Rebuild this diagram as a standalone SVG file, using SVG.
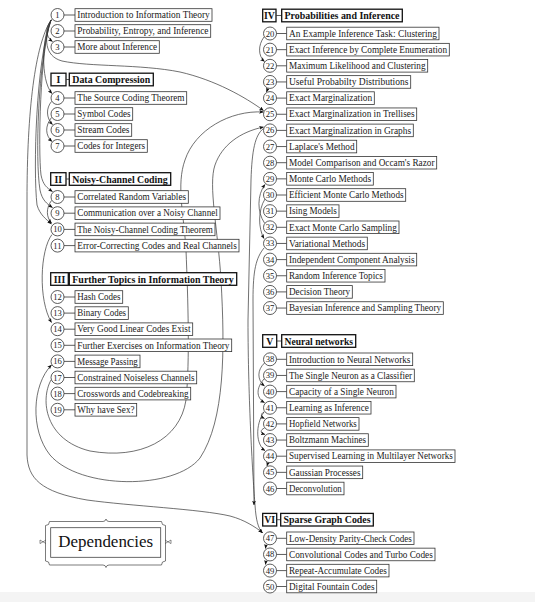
<svg xmlns="http://www.w3.org/2000/svg" width="535" height="602" viewBox="0 0 535 602">
<defs>
<style>
.c{fill:#fff;stroke:#333;stroke-width:.8}
.b{fill:#fff;stroke:#333;stroke-width:.8}
.h{fill:#fff;stroke:#111;stroke-width:1.3}
.k{stroke:#333;stroke-width:.8}
.t{font-family:"Liberation Serif",serif;font-size:9.4px;fill:#1a1a1a}
.n{font-family:"Liberation Serif",serif;font-size:8.6px;fill:#1a1a1a;text-anchor:middle}
.r{font-family:"Liberation Serif",serif;font-size:9.8px;font-weight:bold;fill:#111}
.rc{font-family:"Liberation Serif",serif;font-size:9.8px;font-weight:bold;fill:#111;text-anchor:middle}
.e{fill:none;stroke:#333;stroke-width:.7;marker-end:url(#ah)}
.e2{fill:none;stroke:#333;stroke-width:.7;marker-end:url(#ah);marker-start:url(#as)}
</style>
<marker id="ah" viewBox="0 0 6 5" refX="5.6" refY="2.5" markerWidth="4.6" markerHeight="3.8" markerUnits="userSpaceOnUse" orient="auto"><path d="M0,0 L6,2.5 L0,5 L1.4,2.5 z" fill="#111"/></marker>
<marker id="as" viewBox="0 0 6 5" refX="5.6" refY="2.5" markerWidth="4.6" markerHeight="3.8" markerUnits="userSpaceOnUse" orient="auto-start-reverse"><path d="M0,0 L6,2.5 L0,5 L1.4,2.5 z" fill="#111"/></marker>
</defs>
<rect x="0" y="0" width="535" height="602" fill="#fff"/>
<rect x="0" y="592" width="535" height="10" fill="#f4f4f4"/>

<g id="connectors">
<path class="e" d="M52,19.5 C45,27 45,36 52.5,41.5"/>
<path class="e" d="M51.5,19.5 C42,35 40,80 52,93.5"/>
<path class="e" d="M51,20 C44,38 44,56 62,61 C90,67 140,64 180,72 C215,80 245,97 263.5,110.5"/>
<path class="e" d="M51.5,101.5 C46,108 46,118 52.5,124.5"/>
<path class="e" d="M51.5,117.5 C45,126 45,135 52,141.5"/>
<path class="e" d="M51,20 C40,50 38,150 41,175 C43,185 47,188 52.5,191.5"/>
<path class="e" d="M51,20 C38,60 35,160 40,190 C42,200 47,204 52.5,207.5"/>
<path class="e" d="M51,20 C36,60 33,170 37,205 C40,215 46,219 51.5,224"/>
<path class="e" d="M51.5,200.5 C46,208 46,217 51.5,223"/>
<path class="e" d="M52,234.5 C40,250 38,300 51.5,322.5"/>
<path class="e" d="M51,20 C35,45 27,110 27,200 L27,455 C28,478 40,492 87,500 C130,506 200,509 230,516 C245,520 255,527 262.5,532.5"/>
<path class="e2" d="M263.5,127 C240,132 222,145 215,165 C208,185 218,230 221,280 C225,350 225,420 200,458 C175,490 80,490 50,455 C30,430 32,385 51.5,365"/>
<path class="e" d="M51,380 C40,400 45,440 90,451 C140,460 180,440 186,400 C190,360 188,300 186,250 C184,215 176,185 185,160 C195,130 230,110 263.5,112"/>
<path class="e" d="M263.5,128.5 C255,135 252,150 251,180 L248,320 C248,400 253,480 255,505 C256,520 258,528 262.5,533"/>
<path class="e" d="M264,248 C256,258 253,270 253,300 L254,505"/>
<path class="e" d="M264,37 C258,45 258,56 264.5,61.5"/>
<path class="e" d="M268,88 L266.5,92"/>
<path class="e" d="M264.5,223 C257,212 257,195 265,184.5"/>
<path class="e" d="M265,199 C258,210 258,228 264,238.5"/>
<path class="e" d="M264.5,363 C257,370 257,380 264.5,386"/>
<path class="e" d="M264,379 C256,388 256,398 264.5,402.5"/>
<path class="e" d="M264,412 C260,414 261,417 264.5,418.5"/>
<path class="e" d="M264,412 C255,425 256,445 265,450.5"/>
<path class="e" d="M264.5,428 C260,430 260,433 265,434.5"/>
<path class="e" d="M268,462.5 L267,466"/>
<path class="e" d="M266,544.5 L265.5,548.5"/>
<path class="e" d="M266,560.5 L265.5,564.5"/>
</g>

<g id="n1"><circle class="c" cx="57.5" cy="15" r="6.5"/><line class="k" x1="64" y1="15" x2="75" y2="15"/><rect class="b" x="75" y="8.7" width="137" height="12.6"/><text class="n" x="57.5" y="18">1</text><text class="t" x="77.3" y="18.2" textLength="132.5" lengthAdjust="spacingAndGlyphs">Introduction to Information Theory</text></g>
<g id="n2"><circle class="c" cx="57.5" cy="31" r="6.5"/><line class="k" x1="64" y1="31" x2="75" y2="31"/><rect class="b" x="75" y="24.7" width="135.7" height="12.6"/><text class="n" x="57.5" y="34">2</text><text class="t" x="77.3" y="34.2" textLength="131.2" lengthAdjust="spacingAndGlyphs">Probability, Entropy, and Inference</text></g>
<g id="n3"><circle class="c" cx="57.5" cy="47" r="6.5"/><line class="k" x1="64" y1="47" x2="75" y2="47"/><rect class="b" x="75" y="40.7" width="84.3" height="12.6"/><text class="n" x="57.5" y="50">3</text><text class="t" x="77.3" y="50.2" textLength="79.8" lengthAdjust="spacingAndGlyphs">More about Inference</text></g>

<g id="partI"><rect class="h" x="51" y="73.2" width="15" height="12.6"/><line class="k" x1="66" y1="79.5" x2="69.3" y2="79.5"/><rect class="h" x="69.3" y="73.2" width="84" height="12.6"/><text class="rc" x="58.5" y="83">I</text><text class="r" x="72.3" y="83" textLength="78" lengthAdjust="spacingAndGlyphs">Data Compression</text></g>
<g id="n4"><circle class="c" cx="57.5" cy="98" r="6.5"/><line class="k" x1="64" y1="98" x2="75" y2="98"/><rect class="b" x="75" y="91.7" width="111.7" height="12.6"/><text class="n" x="57.5" y="101">4</text><text class="t" x="77.3" y="101.2" textLength="107.2" lengthAdjust="spacingAndGlyphs">The Source Coding Theorem</text></g>
<g id="n5"><circle class="c" cx="57.5" cy="114" r="6.5"/><line class="k" x1="64" y1="114" x2="75" y2="114"/><rect class="b" x="75" y="107.7" width="57.7" height="12.6"/><text class="n" x="57.5" y="117">5</text><text class="t" x="77.3" y="117.2" textLength="53.2" lengthAdjust="spacingAndGlyphs">Symbol Codes</text></g>
<g id="n6"><circle class="c" cx="57.5" cy="130" r="6.5"/><line class="k" x1="64" y1="130" x2="75" y2="130"/><rect class="b" x="75" y="123.7" width="56.7" height="12.6"/><text class="n" x="57.5" y="133">6</text><text class="t" x="77.3" y="133.2" textLength="52.2" lengthAdjust="spacingAndGlyphs">Stream Codes</text></g>
<g id="n7"><circle class="c" cx="57.5" cy="146" r="6.5"/><line class="k" x1="64" y1="146" x2="75" y2="146"/><rect class="b" x="75" y="139.7" width="72.3" height="12.6"/><text class="n" x="57.5" y="149">7</text><text class="t" x="77.3" y="149.2" textLength="67.8" lengthAdjust="spacingAndGlyphs">Codes for Integers</text></g>

<g id="partII"><rect class="h" x="50.7" y="172.7" width="15.3" height="12.6"/><line class="k" x1="66" y1="179" x2="69.3" y2="179"/><rect class="h" x="69.3" y="172.7" width="101.4" height="12.6"/><text class="rc" x="58.3" y="182.5">II</text><text class="r" x="72.3" y="182.5" textLength="95.4" lengthAdjust="spacingAndGlyphs">Noisy-Channel Coding</text></g>
<g id="n8"><circle class="c" cx="57.5" cy="197" r="6.5"/><line class="k" x1="64" y1="197" x2="75" y2="197"/><rect class="b" x="75" y="190.7" width="113.3" height="12.6"/><text class="n" x="57.5" y="200">8</text><text class="t" x="77.3" y="200.2" textLength="108.8" lengthAdjust="spacingAndGlyphs">Correlated Random Variables</text></g>
<g id="n9"><circle class="c" cx="57.5" cy="213.2" r="6.5"/><line class="k" x1="64" y1="213.2" x2="75" y2="213.2"/><rect class="b" x="75" y="206.9" width="145" height="12.6"/><text class="n" x="57.5" y="216.2">9</text><text class="t" x="77.3" y="216.4" textLength="140.5" lengthAdjust="spacingAndGlyphs">Communication over a Noisy Channel</text></g>
<g id="n10"><circle class="c" cx="57.5" cy="229.4" r="6.5"/><line class="k" x1="64" y1="229.4" x2="75" y2="229.4"/><rect class="b" x="75" y="223.1" width="140" height="12.6"/><text class="n" x="57.5" y="232.4">10</text><text class="t" x="77.3" y="232.6" textLength="135.5" lengthAdjust="spacingAndGlyphs">The Noisy-Channel Coding Theorem</text></g>
<g id="n11"><circle class="c" cx="57.5" cy="245.6" r="6.5"/><line class="k" x1="64" y1="245.6" x2="75" y2="245.6"/><rect class="b" x="75" y="239.3" width="164" height="12.6"/><text class="n" x="57.5" y="248.6">11</text><text class="t" x="77.3" y="248.8" textLength="159.5" lengthAdjust="spacingAndGlyphs">Error-Correcting Codes and Real Channels</text></g>

<g id="partIII"><rect class="h" x="50.7" y="272.7" width="17.6" height="12.6"/><line class="k" x1="68.3" y1="279" x2="69.3" y2="279"/><rect class="h" x="69.3" y="272.7" width="167.4" height="12.6"/><text class="rc" x="59.5" y="282.5">III</text><text class="r" x="72.3" y="282.5" textLength="161.4" lengthAdjust="spacingAndGlyphs">Further Topics in Information Theory</text></g>
<g id="n12"><circle class="c" cx="57.5" cy="297" r="6.5"/><line class="k" x1="64" y1="297" x2="75" y2="297"/><rect class="b" x="75" y="290.7" width="47.7" height="12.6"/><text class="n" x="57.5" y="300">12</text><text class="t" x="77.3" y="300.2" textLength="43.2" lengthAdjust="spacingAndGlyphs">Hash Codes</text></g>
<g id="n13"><circle class="c" cx="57.5" cy="313.1" r="6.5"/><line class="k" x1="64" y1="313.1" x2="75" y2="313.1"/><rect class="b" x="75" y="306.8" width="53.3" height="12.6"/><text class="n" x="57.5" y="316.1">13</text><text class="t" x="77.3" y="316.3" textLength="48.8" lengthAdjust="spacingAndGlyphs">Binary Codes</text></g>
<g id="n14"><circle class="c" cx="57.5" cy="329.2" r="6.5"/><line class="k" x1="64" y1="329.2" x2="75" y2="329.2"/><rect class="b" x="75" y="322.9" width="117.7" height="12.6"/><text class="n" x="57.5" y="332.2">14</text><text class="t" x="77.3" y="332.4" textLength="113.2" lengthAdjust="spacingAndGlyphs">Very Good Linear Codes Exist</text></g>
<g id="n15"><circle class="c" cx="57.5" cy="345.3" r="6.5"/><line class="k" x1="64" y1="345.3" x2="75" y2="345.3"/><rect class="b" x="75" y="339" width="156.7" height="12.6"/><text class="n" x="57.5" y="348.3">15</text><text class="t" x="77.3" y="348.5" textLength="152.2" lengthAdjust="spacingAndGlyphs">Further Exercises on Information Theory</text></g>
<g id="n16"><circle class="c" cx="57.5" cy="361.4" r="6.5"/><line class="k" x1="64" y1="361.4" x2="75" y2="361.4"/><rect class="b" x="75" y="355.1" width="65" height="12.6"/><text class="n" x="57.5" y="364.4">16</text><text class="t" x="77.3" y="364.6" textLength="60.5" lengthAdjust="spacingAndGlyphs">Message Passing</text></g>
<g id="n17"><circle class="c" cx="57.5" cy="377.5" r="6.5"/><line class="k" x1="64" y1="377.5" x2="75" y2="377.5"/><rect class="b" x="75" y="371.2" width="121.7" height="12.6"/><text class="n" x="57.5" y="380.5">17</text><text class="t" x="77.3" y="380.7" textLength="117.2" lengthAdjust="spacingAndGlyphs">Constrained Noiseless Channels</text></g>
<g id="n18"><circle class="c" cx="57.5" cy="393.6" r="6.5"/><line class="k" x1="64" y1="393.6" x2="75" y2="393.6"/><rect class="b" x="75" y="387.3" width="115.7" height="12.6"/><text class="n" x="57.5" y="396.6">18</text><text class="t" x="77.3" y="396.8" textLength="111.2" lengthAdjust="spacingAndGlyphs">Crosswords and Codebreaking</text></g>
<g id="n19"><circle class="c" cx="57.5" cy="409.8" r="6.5"/><line class="k" x1="64" y1="409.8" x2="75" y2="409.8"/><rect class="b" x="75" y="403.5" width="61.7" height="12.6"/><text class="n" x="57.5" y="412.8">19</text><text class="t" x="77.3" y="413" textLength="57.2" lengthAdjust="spacingAndGlyphs">Why have Sex?</text></g>

<g id="partIV"><rect class="h" x="262.7" y="9.2" width="13.3" height="12.6"/><line class="k" x1="276" y1="15.5" x2="281.7" y2="15.5"/><rect class="h" x="281.7" y="9.2" width="120.6" height="12.6"/><text class="rc" x="269.35" y="19">IV</text><text class="r" x="284.5" y="19" textLength="115" lengthAdjust="spacingAndGlyphs">Probabilities and Inference</text></g>
<g id="n20"><circle class="c" cx="270" cy="33.5" r="6.5"/><line class="k" x1="276.5" y1="33.5" x2="286.7" y2="33.5"/><rect class="b" x="286.7" y="27.2" width="152.3" height="12.6"/><text class="n" x="270" y="36.5">20</text><text class="t" x="289" y="36.7" textLength="147.8" lengthAdjust="spacingAndGlyphs">An Example Inference Task: Clustering</text></g>
<g id="n21"><circle class="c" cx="270" cy="49.65" r="6.5"/><line class="k" x1="276.5" y1="49.65" x2="286.7" y2="49.65"/><rect class="b" x="286.7" y="43.35" width="162.6" height="12.6"/><text class="n" x="270" y="52.65">21</text><text class="t" x="289" y="52.85" textLength="158.1" lengthAdjust="spacingAndGlyphs">Exact Inference by Complete Enumeration</text></g>
<g id="n22"><circle class="c" cx="270" cy="65.8" r="6.5"/><line class="k" x1="276.5" y1="65.8" x2="286.7" y2="65.8"/><rect class="b" x="286.7" y="59.5" width="141" height="12.6"/><text class="n" x="270" y="68.8">22</text><text class="t" x="289" y="69" textLength="136.5" lengthAdjust="spacingAndGlyphs">Maximum Likelihood and Clustering</text></g>
<g id="n23"><circle class="c" cx="270" cy="81.95" r="6.5"/><line class="k" x1="276.5" y1="81.95" x2="286.7" y2="81.95"/><rect class="b" x="286.7" y="75.65" width="124" height="12.6"/><text class="n" x="270" y="84.95">23</text><text class="t" x="289" y="85.15" textLength="119.5" lengthAdjust="spacingAndGlyphs">Useful Probabilty Distributions</text></g>
<g id="n24"><circle class="c" cx="270" cy="98.1" r="6.5"/><line class="k" x1="276.5" y1="98.1" x2="286.7" y2="98.1"/><rect class="b" x="286.7" y="91.8" width="87.6" height="12.6"/><text class="n" x="270" y="101.1">24</text><text class="t" x="289" y="101.3" textLength="83.1" lengthAdjust="spacingAndGlyphs">Exact Marginalization</text></g>
<g id="n25"><circle class="c" cx="270" cy="114.25" r="6.5"/><line class="k" x1="276.5" y1="114.25" x2="286.7" y2="114.25"/><rect class="b" x="286.7" y="107.95" width="130" height="12.6"/><text class="n" x="270" y="117.25">25</text><text class="t" x="289" y="117.45" textLength="125.5" lengthAdjust="spacingAndGlyphs">Exact Marginalization in Trellises</text></g>
<g id="n26"><circle class="c" cx="270" cy="130.4" r="6.5"/><line class="k" x1="276.5" y1="130.4" x2="286.7" y2="130.4"/><rect class="b" x="286.7" y="124.1" width="126.6" height="12.6"/><text class="n" x="270" y="133.4">26</text><text class="t" x="289" y="133.6" textLength="122.1" lengthAdjust="spacingAndGlyphs">Exact Marginalization in Graphs</text></g>
<g id="n27"><circle class="c" cx="270" cy="146.55" r="6.5"/><line class="k" x1="276.5" y1="146.55" x2="286.7" y2="146.55"/><rect class="b" x="286.7" y="140.25" width="70" height="12.6"/><text class="n" x="270" y="149.55">27</text><text class="t" x="289" y="149.75" textLength="65.5" lengthAdjust="spacingAndGlyphs">Laplace's Method</text></g>
<g id="n28"><circle class="c" cx="270" cy="162.7" r="6.5"/><line class="k" x1="276.5" y1="162.7" x2="286.7" y2="162.7"/><rect class="b" x="286.7" y="156.4" width="150" height="12.6"/><text class="n" x="270" y="165.7">28</text><text class="t" x="289" y="165.9" textLength="145.5" lengthAdjust="spacingAndGlyphs">Model Comparison and Occam's Razor</text></g>
<g id="n29"><circle class="c" cx="270" cy="178.85" r="6.5"/><line class="k" x1="276.5" y1="178.85" x2="286.7" y2="178.85"/><rect class="b" x="286.7" y="172.55" width="86.6" height="12.6"/><text class="n" x="270" y="181.85">29</text><text class="t" x="289" y="182.05" textLength="82.1" lengthAdjust="spacingAndGlyphs">Monte Carlo Methods</text></g>
<g id="n30"><circle class="c" cx="270" cy="195" r="6.5"/><line class="k" x1="276.5" y1="195" x2="286.7" y2="195"/><rect class="b" x="286.7" y="188.7" width="119" height="12.6"/><text class="n" x="270" y="198">30</text><text class="t" x="289" y="198.2" textLength="114.5" lengthAdjust="spacingAndGlyphs">Efficient Monte Carlo Methods</text></g>
<g id="n31"><circle class="c" cx="270" cy="211.15" r="6.5"/><line class="k" x1="276.5" y1="211.15" x2="286.7" y2="211.15"/><rect class="b" x="286.7" y="204.85" width="52.3" height="12.6"/><text class="n" x="270" y="214.15">31</text><text class="t" x="289" y="214.35" textLength="47.8" lengthAdjust="spacingAndGlyphs">Ising Models</text></g>
<g id="n32"><circle class="c" cx="270" cy="227.3" r="6.5"/><line class="k" x1="276.5" y1="227.3" x2="286.7" y2="227.3"/><rect class="b" x="286.7" y="221" width="112.3" height="12.6"/><text class="n" x="270" y="230.3">32</text><text class="t" x="289" y="230.5" textLength="107.8" lengthAdjust="spacingAndGlyphs">Exact Monte Carlo Sampling</text></g>
<g id="n33"><circle class="c" cx="270" cy="243.45" r="6.5"/><line class="k" x1="276.5" y1="243.45" x2="286.7" y2="243.45"/><rect class="b" x="286.7" y="237.15" width="80.6" height="12.6"/><text class="n" x="270" y="246.45">33</text><text class="t" x="289" y="246.65" textLength="76.1" lengthAdjust="spacingAndGlyphs">Variational Methods</text></g>
<g id="n34"><circle class="c" cx="270" cy="259.6" r="6.5"/><line class="k" x1="276.5" y1="259.6" x2="286.7" y2="259.6"/><rect class="b" x="286.7" y="253.3" width="130" height="12.6"/><text class="n" x="270" y="262.6">34</text><text class="t" x="289" y="262.8" textLength="125.5" lengthAdjust="spacingAndGlyphs">Independent Component Analysis</text></g>
<g id="n35"><circle class="c" cx="270" cy="275.75" r="6.5"/><line class="k" x1="276.5" y1="275.75" x2="286.7" y2="275.75"/><rect class="b" x="286.7" y="269.45" width="98.3" height="12.6"/><text class="n" x="270" y="278.75">35</text><text class="t" x="289" y="278.95" textLength="93.8" lengthAdjust="spacingAndGlyphs">Random Inference Topics</text></g>
<g id="n36"><circle class="c" cx="270" cy="291.9" r="6.5"/><line class="k" x1="276.5" y1="291.9" x2="286.7" y2="291.9"/><rect class="b" x="286.7" y="285.6" width="65.6" height="12.6"/><text class="n" x="270" y="294.9">36</text><text class="t" x="289" y="295.1" textLength="61.1" lengthAdjust="spacingAndGlyphs">Decision Theory</text></g>
<g id="n37"><circle class="c" cx="270" cy="308.05" r="6.5"/><line class="k" x1="276.5" y1="308.05" x2="286.7" y2="308.05"/><rect class="b" x="286.7" y="301.75" width="156.6" height="12.6"/><text class="n" x="270" y="311.05">37</text><text class="t" x="289" y="311.25" textLength="152.1" lengthAdjust="spacingAndGlyphs">Bayesian Inference and Sampling Theory</text></g>

<g id="partV"><rect class="h" x="262.7" y="334.7" width="14" height="12.6"/><line class="k" x1="276.7" y1="341" x2="281.7" y2="341"/><rect class="h" x="281.7" y="334.7" width="74" height="12.6"/><text class="rc" x="269.7" y="344.5">V</text><text class="r" x="284.5" y="344.5" textLength="68.5" lengthAdjust="spacingAndGlyphs">Neural networks</text></g>
<g id="n38"><circle class="c" cx="270" cy="359.3" r="6.5"/><line class="k" x1="276.5" y1="359.3" x2="286.7" y2="359.3"/><rect class="b" x="286.7" y="353" width="126" height="12.6"/><text class="n" x="270" y="362.3">38</text><text class="t" x="289" y="362.5" textLength="121.5" lengthAdjust="spacingAndGlyphs">Introduction to Neural Networks</text></g>
<g id="n39"><circle class="c" cx="270" cy="375.45" r="6.5"/><line class="k" x1="276.5" y1="375.45" x2="286.7" y2="375.45"/><rect class="b" x="286.7" y="369.15" width="127.6" height="12.6"/><text class="n" x="270" y="378.45">39</text><text class="t" x="289" y="378.65" textLength="123.1" lengthAdjust="spacingAndGlyphs">The Single Neuron as a Classifier</text></g>
<g id="n40"><circle class="c" cx="270" cy="391.6" r="6.5"/><line class="k" x1="276.5" y1="391.6" x2="286.7" y2="391.6"/><rect class="b" x="286.7" y="385.3" width="109.3" height="12.6"/><text class="n" x="270" y="394.6">40</text><text class="t" x="289" y="394.8" textLength="104.8" lengthAdjust="spacingAndGlyphs">Capacity of a Single Neuron</text></g>
<g id="n41"><circle class="c" cx="270" cy="407.75" r="6.5"/><line class="k" x1="276.5" y1="407.75" x2="286.7" y2="407.75"/><rect class="b" x="286.7" y="401.45" width="84.3" height="12.6"/><text class="n" x="270" y="410.75">41</text><text class="t" x="289" y="410.95" textLength="79.8" lengthAdjust="spacingAndGlyphs">Learning as Inference</text></g>
<g id="n42"><circle class="c" cx="270" cy="423.9" r="6.5"/><line class="k" x1="276.5" y1="423.9" x2="286.7" y2="423.9"/><rect class="b" x="286.7" y="417.6" width="72.3" height="12.6"/><text class="n" x="270" y="426.9">42</text><text class="t" x="289" y="427.1" textLength="67.8" lengthAdjust="spacingAndGlyphs">Hopfield Networks</text></g>
<g id="n43"><circle class="c" cx="270" cy="440.05" r="6.5"/><line class="k" x1="276.5" y1="440.05" x2="286.7" y2="440.05"/><rect class="b" x="286.7" y="433.75" width="81.6" height="12.6"/><text class="n" x="270" y="443.05">43</text><text class="t" x="289" y="443.25" textLength="77.1" lengthAdjust="spacingAndGlyphs">Boltzmann Machines</text></g>
<g id="n44"><circle class="c" cx="270" cy="456.2" r="6.5"/><line class="k" x1="276.5" y1="456.2" x2="286.7" y2="456.2"/><rect class="b" x="286.7" y="449.9" width="168.3" height="12.6"/><text class="n" x="270" y="459.2">44</text><text class="t" x="289" y="459.4" textLength="163.8" lengthAdjust="spacingAndGlyphs">Supervised Learning in Multilayer Networks</text></g>
<g id="n45"><circle class="c" cx="270" cy="472.35" r="6.5"/><line class="k" x1="276.5" y1="472.35" x2="286.7" y2="472.35"/><rect class="b" x="286.7" y="466.05" width="76" height="12.6"/><text class="n" x="270" y="475.35">45</text><text class="t" x="289" y="475.55" textLength="71.5" lengthAdjust="spacingAndGlyphs">Gaussian Processes</text></g>
<g id="n46"><circle class="c" cx="270" cy="488.5" r="6.5"/><line class="k" x1="276.5" y1="488.5" x2="286.7" y2="488.5"/><rect class="b" x="286.7" y="482.2" width="57.3" height="12.6"/><text class="n" x="270" y="491.5">46</text><text class="t" x="289" y="491.7" textLength="52.8" lengthAdjust="spacingAndGlyphs">Deconvolution</text></g>

<g id="partVI"><rect class="h" x="262.7" y="513.4" width="14" height="12.6"/><line class="k" x1="276.7" y1="519.7" x2="280.7" y2="519.7"/><rect class="h" x="280.7" y="513.4" width="92.6" height="12.6"/><text class="rc" x="269.7" y="523.2">VI</text><text class="r" x="283.5" y="523.2" textLength="87" lengthAdjust="spacingAndGlyphs">Sparse Graph Codes</text></g>
<g id="n47"><circle class="c" cx="270" cy="538.3" r="6.5"/><line class="k" x1="276.5" y1="538.3" x2="286.7" y2="538.3"/><rect class="b" x="286.7" y="532" width="127.3" height="12.6"/><text class="n" x="270" y="541.3">47</text><text class="t" x="289" y="541.5" textLength="122.8" lengthAdjust="spacingAndGlyphs">Low-Density Parity-Check Codes</text></g>
<g id="n48"><circle class="c" cx="270" cy="554.45" r="6.5"/><line class="k" x1="276.5" y1="554.45" x2="286.7" y2="554.45"/><rect class="b" x="286.7" y="548.15" width="148.3" height="12.6"/><text class="n" x="270" y="557.45">48</text><text class="t" x="289" y="557.65" textLength="143.8" lengthAdjust="spacingAndGlyphs">Convolutional Codes and Turbo Codes</text></g>
<g id="n49"><circle class="c" cx="270" cy="570.6" r="6.5"/><line class="k" x1="276.5" y1="570.6" x2="286.7" y2="570.6"/><rect class="b" x="286.7" y="564.3" width="102.3" height="12.6"/><text class="n" x="270" y="573.6">49</text><text class="t" x="289" y="573.8" textLength="97.8" lengthAdjust="spacingAndGlyphs">Repeat-Accumulate Codes</text></g>
<g id="n50"><circle class="c" cx="270" cy="586.5" r="6.5"/><line class="k" x1="276.5" y1="586.5" x2="286.7" y2="586.5"/><rect class="b" x="286.7" y="580.2" width="90" height="12.6"/><text class="n" x="270" y="589.5">50</text><text class="t" x="289" y="589.7" textLength="85.5" lengthAdjust="spacingAndGlyphs">Digital Fountain Codes</text></g>

<g id="title">
<path d="M49.5,521.5 L103,521.5 Q105.5,521.5 106,519 Q106.5,521.5 109,521.5 L161.5,521.5 A4,4 0 0 0 165.5,525.5 L165.5,561 A4,4 0 0 0 161.5,565 L109,565 Q106.5,565 106,567.5 Q105.5,565 103,565 L49.5,565 A4,4 0 0 0 45.5,561 L45.5,525.5 A4,4 0 0 0 49.5,521.5 Z" fill="none" stroke="#444" stroke-width=".7"/>
<rect x="50.7" y="527.7" width="110" height="29.6" fill="none" stroke="#444" stroke-width=".8"/>
<path d="M40,540 L46,543.6 M40,543.6 L46,540 M40,540 L40,543.6" fill="none" stroke="#444" stroke-width=".6"/>
<path d="M171,540 L165,543.6 M171,543.6 L165,540 M171,540 L171,543.6" fill="none" stroke="#444" stroke-width=".6"/>
<text x="105.7" y="547" font-family="Liberation Serif,serif" font-size="17.3" fill="#111" text-anchor="middle" textLength="95" lengthAdjust="spacingAndGlyphs">Dependencies</text>
</g>
</svg>
